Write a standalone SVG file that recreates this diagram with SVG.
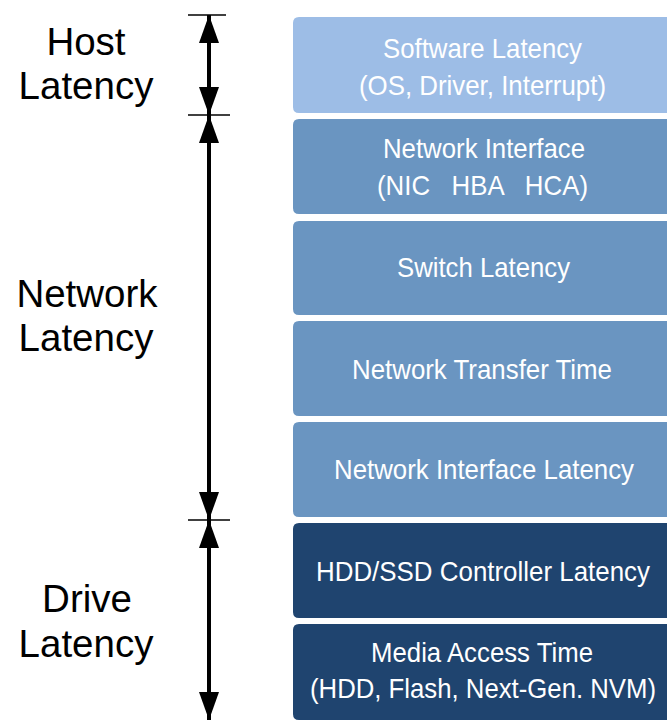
<svg xmlns="http://www.w3.org/2000/svg" width="667" height="721" viewBox="0 0 667 721">
  <style>
    .host { fill: #9dbde6; }
    .net { fill: #6a95c1; }
    .drive { fill: #1f446f; }
    .bt { font-family: "Liberation Sans", Arial, sans-serif; font-size: 28px; fill: #ffffff; white-space: pre; }
    .lt { font-family: "Liberation Sans", Arial, sans-serif; font-size: 38.5px; fill: #000000; text-anchor: middle; }
    .tick { stroke: #000000; stroke-width: 1.5; }
    .shaft { stroke: #000000; stroke-width: 4; }
  </style>
  <defs>
    <marker id="head" viewBox="0 0 28 20" refX="28" refY="10" markerWidth="28" markerHeight="20" markerUnits="userSpaceOnUse" orient="auto-start-reverse">
      <path d="M0,0 L28,10 L0,20 Z" fill="#000000"/>
    </marker>
  </defs>

  <g id="left-labels">
    <text class="lt" x="86" y="55">Host</text>
    <text class="lt" x="86" y="99">Latency</text>
    <text class="lt" x="87" y="307">Network</text>
    <text class="lt" x="86" y="351">Latency</text>
    <text class="lt" x="87" y="612">Drive</text>
    <text class="lt" x="86" y="657">Latency</text>
  </g>

  <g id="connectors">
    <line class="tick" x1="188" y1="15" x2="226" y2="15"/>
    <line class="tick" x1="188" y1="115" x2="230" y2="115"/>
    <line class="tick" x1="188" y1="520" x2="230" y2="520"/>
    <line class="shaft" x1="209" y1="15" x2="209" y2="115" marker-start="url(#head)" marker-end="url(#head)"/>
    <line class="shaft" x1="209" y1="115" x2="209" y2="520" marker-start="url(#head)" marker-end="url(#head)"/>
    <line class="shaft" x1="209" y1="520" x2="209" y2="720" marker-start="url(#head)" marker-end="url(#head)"/>
  </g>

  <!-- each box: rounded on the left, running off the right edge of the page -->
  <g id="software-latency">
    <path class="host" d="M299,17 H667 V113 H299 Q293,113 293,107 V23 Q293,17 299,17 Z"/>
    <text class="bt" x="383" y="58" textLength="199" lengthAdjust="spacingAndGlyphs">Software Latency</text>
    <text class="bt" x="359" y="95" textLength="247" lengthAdjust="spacingAndGlyphs">(OS, Driver, Interrupt)</text>
  </g>
  <g id="network-interface">
    <path class="net" d="M299,119 H667 V214 H299 Q293,214 293,208 V125 Q293,119 299,119 Z"/>
    <text class="bt" x="383" y="158" textLength="202" lengthAdjust="spacingAndGlyphs">Network Interface</text>
    <text class="bt" x="377" y="195" textLength="211" lengthAdjust="spacingAndGlyphs">(NIC   HBA   HCA)</text>
  </g>
  <g id="switch-latency">
    <path class="net" d="M299,221 H667 V315 H299 Q293,315 293,309 V227 Q293,221 299,221 Z"/>
    <text class="bt" x="397" y="277" textLength="173" lengthAdjust="spacingAndGlyphs">Switch Latency</text>
  </g>
  <g id="network-transfer-time">
    <path class="net" d="M299,321 H667 V416 H299 Q293,416 293,410 V327 Q293,321 299,321 Z"/>
    <text class="bt" x="352" y="379" textLength="260" lengthAdjust="spacingAndGlyphs">Network Transfer Time</text>
  </g>
  <g id="network-interface-latency">
    <path class="net" d="M299,422 H667 V517 H299 Q293,517 293,511 V428 Q293,422 299,422 Z"/>
    <text class="bt" x="334" y="479" textLength="300" lengthAdjust="spacingAndGlyphs">Network Interface Latency</text>
  </g>
  <g id="controller-latency">
    <path class="drive" d="M299,523 H667 V618 H299 Q293,618 293,612 V529 Q293,523 299,523 Z"/>
    <text class="bt" x="316" y="581" textLength="334" lengthAdjust="spacingAndGlyphs">HDD/SSD Controller Latency</text>
  </g>
  <g id="media-access-time">
    <path class="drive" d="M299,624 H667 V720 H299 Q293,720 293,714 V630 Q293,624 299,624 Z"/>
    <text class="bt" x="371" y="662" textLength="222" lengthAdjust="spacingAndGlyphs">Media Access Time</text>
    <text class="bt" x="310" y="698" textLength="346" lengthAdjust="spacingAndGlyphs">(HDD, Flash, Next-Gen. NVM)</text>
  </g>
</svg>
